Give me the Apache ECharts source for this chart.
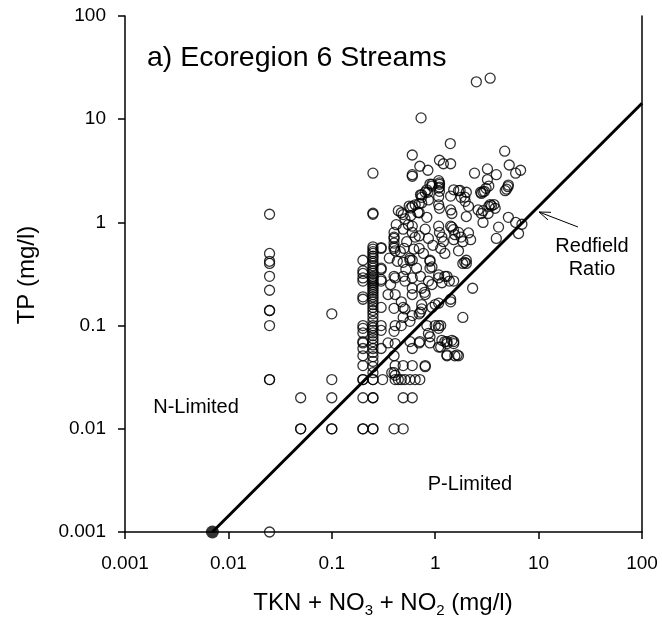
<!DOCTYPE html>
<html>
<head>
<meta charset="utf-8">
<script src="https://cdn.jsdelivr.net/npm/echarts@6/dist/echarts.min.js"></script>
<style>
html,body{margin:0;padding:0;background:#fff;}
#chart{width:662px;height:625px;}
</style>
</head>
<body>
<div id="chart"></div>
<script>
// Tick labels for both log axes
const tickLabels = ['0.001', '0.01', '0.1', '1', '10', '100'];

// Observations [TKN+NO3+NO2, TP] (mg/l), grouped by TKN range
const groupLow = [
  [0.025,1.2],[0.025,0.5],[0.025,0.42],[0.025,0.4],[0.025,0.3],[0.025,0.22],[0.025,0.14],[0.025,0.14],
  [0.025,0.1],[0.025,0.03],[0.025,0.03],[0.025,0.001],
  [0.05,0.02],[0.05,0.01],[0.05,0.01],
  [0.1,0.13],[0.1,0.03],[0.1,0.02],[0.1,0.01],[0.1,0.01]
];
const group020 = [
  [0.2,0.43],[0.2,0.34],[0.2,0.32],[0.2,0.29],[0.2,0.27],[0.2,0.19],[0.2,0.18],[0.2,0.1],[0.2,0.094],
  [0.2,0.085],[0.2,0.07],[0.2,0.068],[0.2,0.06],[0.2,0.051],[0.2,0.041],[0.2,0.03],[0.2,0.03],
  [0.2,0.02],[0.2,0.01],[0.2,0.01]
];
const group025 = [
  [0.25,3.0],[0.25,1.23],[0.25,1.2],
  [0.25,0.58],[0.25,0.55],[0.25,0.52],[0.25,0.5],[0.25,0.47],[0.25,0.45],[0.25,0.42],[0.25,0.4],
  [0.25,0.38],[0.25,0.36],[0.25,0.34],[0.25,0.32],[0.25,0.3],[0.25,0.29],[0.25,0.28],[0.25,0.27],
  [0.25,0.26],[0.25,0.25],[0.25,0.24],[0.25,0.23],[0.25,0.22],[0.25,0.21],[0.25,0.2],[0.25,0.19],
  [0.25,0.18],[0.25,0.17],[0.25,0.16],[0.25,0.15],[0.25,0.14],[0.25,0.13],[0.25,0.12],[0.25,0.11],
  [0.25,0.1],[0.25,0.095],[0.25,0.09],[0.25,0.085],[0.25,0.08],[0.25,0.075],[0.25,0.07],[0.25,0.065],
  [0.25,0.06],[0.25,0.055],[0.25,0.05],[0.25,0.045],[0.25,0.04],[0.25,0.035],[0.25,0.03],[0.25,0.03],
  [0.25,0.02],[0.25,0.02],[0.25,0.01],[0.25,0.01]
];
const group030 = [
  [0.3,0.57],[0.3,0.56],[0.3,0.36],[0.3,0.35],[0.3,0.28],[0.3,0.27],[0.3,0.15],[0.3,0.1],[0.3,0.09],
  [0.3,0.06],[0.31,0.03],[0.35,0.2],[0.35,0.068],
  [0.4,0.8],[0.4,0.72],[0.4,0.7],[0.4,0.63],[0.4,0.58],[0.4,0.56],[0.41,0.53],[0.4,0.3],[0.41,0.29],
  [0.41,0.2],[0.4,0.147],[0.41,0.1],[0.4,0.088],[0.41,0.067],[0.4,0.051],[0.41,0.041],[0.4,0.035],
  [0.41,0.033],[0.41,0.03],[0.38,0.035],[0.4,0.01],
  [0.36,0.45],[0.42,0.95],[0.44,1.3],[0.37,0.25],[0.43,0.42]
];
const group050 = [
  [0.49,1.19],[0.51,1.08],[0.47,1.24],[0.46,0.52],[0.49,0.86],[0.5,0.56],[0.49,0.41],[0.49,0.3],
  [0.51,0.27],[0.47,0.17],[0.49,0.15],[0.51,0.145],[0.49,0.12],[0.47,0.1],[0.49,0.041],[0.44,0.03],
  [0.47,0.03],[0.51,0.03],[0.49,0.02],[0.49,0.01],
  [0.6,4.5],[0.6,2.8],[0.6,2.9],[0.6,1.43],[0.58,1.38],[0.64,1.48],[0.56,1.44],[0.58,1.16],[0.6,0.92],
  [0.6,0.8],[0.64,0.72],[0.57,0.45],[0.6,0.43],[0.57,0.43],[0.6,0.29],[0.6,0.23],[0.6,0.2],[0.6,0.125],
  [0.57,0.11],[0.57,0.07],[0.6,0.06],[0.6,0.041],[0.57,0.03],[0.64,0.03],[0.6,0.02],
  [0.53,0.65],[0.55,0.95],[0.62,0.55],[0.52,0.35],[0.66,0.36]
];
const group075 = [
  [0.73,10.3],[0.71,3.5],[0.7,1.52],[0.74,1.54],[0.68,1.25],[0.7,1.24],[0.72,1.85],[0.74,1.75],
  [0.83,1.12],[0.7,0.74],[0.7,0.56],[0.72,0.3],[0.74,0.23],[0.8,0.2],[0.79,0.21],[0.74,0.16],
  [0.72,0.135],[0.7,0.13],[0.74,0.145],[0.83,0.1],[0.7,0.068],[0.71,0.07],[0.71,0.03],[0.8,0.041],
  [0.8,0.04],[0.8,0.86],[0.86,0.7],[0.83,2.07],[0.74,1.85],[0.8,1.96],
  [0.85,3.2],[0.93,2.25],[0.89,2.35],[0.85,1.96],[0.86,1.65],[0.93,2.34],[0.89,0.42],[0.93,0.37],
  [0.89,0.43],[0.89,0.36],[0.86,0.27],[0.93,0.25],[0.89,0.068],[0.86,0.084],[0.89,0.078],[0.93,0.15],
  [1.0,0.16],[1.0,0.1],[0.77,0.5],[0.95,0.6]
];
const group120 = [
  [1.1,4.0],[1.2,3.7],[1.08,2.54],[1.1,2.34],[1.1,2.42],[1.1,2.2],[1.1,2.0],[1.08,2.15],[1.08,1.77],
  [1.08,1.48],[1.1,1.37],[1.08,0.92],[1.1,0.8],[1.16,0.72],[1.2,0.65],[1.13,0.56],[1.24,0.5],
  [1.08,0.31],[1.16,0.26],[1.08,0.29],[1.3,0.3],[1.24,0.3],[1.37,0.27],[1.08,0.165],[1.08,0.1],
  [1.13,0.1],[1.08,0.094],[1.16,0.072],[1.3,0.07],[1.24,0.07],[1.13,0.062],[1.08,0.062],[1.3,0.067],
  [1.3,0.052],[1.3,0.051]
];
const group160 = [
  [1.4,5.8],[1.41,3.7],[1.51,2.07],[1.74,2.04],[1.68,2.03],[1.41,1.8],[1.78,1.75],[1.41,1.32],
  [1.45,1.22],[1.41,0.92],[1.45,0.9],[1.5,0.85],[1.55,0.76],[1.68,0.8],[1.51,0.68],[1.78,0.72],
  [1.85,0.65],[1.68,0.53],[1.51,0.27],[1.41,0.17],[1.41,0.18],[1.45,0.072],[1.51,0.07],[1.55,0.051],
  [1.68,0.051],[1.63,0.052],[1.85,0.12],[1.85,0.4],[1.93,0.41],[1.51,0.067]
];
const groupHigh = [
  [2.0,1.96],[1.93,1.76],[1.95,1.6],[2.1,1.43],[2.0,1.14],[2.2,0.68],[2.1,0.79],[2.0,0.43],[2.0,0.4],
  [2.3,0.23],[2.5,23],[2.4,3.0],
  [3.4,25],[3.2,3.3],[3.9,2.9],[3.2,2.6],[3.3,2.25],[3.1,2.14],[2.9,1.98],[2.75,1.96],[3.0,2.0],
  [2.8,1.91],[2.6,1.32],[2.8,1.22],[2.9,1.3],[3.3,1.43],[3.4,1.49],[3.7,1.49],[3.8,1.37],[3.5,1.45],
  [2.9,1.0],[4.1,0.9],[3.9,0.7],[3.25,1.22],
  [4.7,4.9],[5.2,3.6],[6.0,3.0],[6.7,3.2],[5.06,2.22],[4.9,2.1],[4.75,2.03],[5.1,2.3],[5.1,1.12],
  [6.0,1.0],[6.9,0.96],[6.4,0.78]
];

// Redfield ratio line (TN:TP = 7:1) and its start point
const redfieldX = [0.007, 100];
const redfieldY = [0.001, 100 / 7];

const observations = [].concat(groupLow, group020, group025, group030, group050, group075, group120, group160, groupHigh);

const FONT = '"Liberation Sans", Arial, Helvetica, sans-serif';
const chart = echarts.init(document.getElementById('chart'), null, {renderer: 'canvas'});

const fmt = v => tickLabels[Math.round(Math.log10(v)) + 3];

const axisCommon = {
  type: 'log', logBase: 10, min: 0.001, max: 100,
  splitLine: {show: false}, minorTick: {show: false}, minorSplitLine: {show: false}
};

chart.setOption({
  animation: false,
  backgroundColor: '#fff',
  title: {
    text: 'a) Ecoregion 6 Streams',
    left: 147, top: 43, padding: 0,
    textStyle: {fontFamily: FONT, fontSize: 28.5, fontWeight: 'normal', color: '#000', lineHeight: 30}
  },
  grid: {left: 125, right: 20, top: 16, bottom: 93, containLabel: false},
  xAxis: Object.assign({}, axisCommon, {
    axisLine: {show: true, lineStyle: {color: '#000', width: 1.5}},
    axisTick: {show: true, length: 7, inside: false, lineStyle: {color: '#000', width: 1.5}},
    axisLabel: {fontFamily: FONT, fontSize: 19, color: '#000', margin: 22, formatter: fmt}
  }),
  yAxis: [
    Object.assign({}, axisCommon, {
      position: 'left',
      axisLine: {show: true, lineStyle: {color: '#000', width: 1.5}},
      axisTick: {show: true, length: 7, inside: false, lineStyle: {color: '#000', width: 1.5}},
      axisLabel: {fontFamily: FONT, fontSize: 19, color: '#000', margin: 19, formatter: fmt}
    }),
    Object.assign({}, axisCommon, {
      position: 'right',
      axisLine: {show: true, lineStyle: {color: '#000', width: 1.5}},
      axisTick: {show: false}, axisLabel: {show: false}
    })
  ],
  series: [
    {
      type: 'scatter',
      data: observations,
      symbol: 'circle', symbolSize: 10,
      clip: false,
      itemStyle: {color: 'rgba(0,0,0,0)', borderColor: '#000', borderWidth: 1.3},
      z: 2
    },
    {
      type: 'line',
      data: redfieldX.map((x, i) => [x, redfieldY[i]]),
      showSymbol: false, symbol: 'none',
      clip: false,
      lineStyle: {color: '#000', width: 3},
      z: 3
    },
    {
      type: 'scatter',
      data: [[redfieldX[0], redfieldY[0]]],
      symbol: 'circle', symbolSize: 13,
      clip: false,
      itemStyle: {color: '#000', borderWidth: 0},
      z: 4
    }
  ],
  graphic: [
    {type: 'text', x: 196, y: 407, style: {text: 'N-Limited', font: '20px ' + FONT, fill: '#000', align: 'center', verticalAlign: 'middle'}},
    {type: 'text', x: 470, y: 484, style: {text: 'P-Limited', font: '20px ' + FONT, fill: '#000', align: 'center', verticalAlign: 'middle'}},
    {type: 'text', x: 592, y: 246, style: {text: 'Redfield', font: '20px ' + FONT, fill: '#000', align: 'center', verticalAlign: 'middle'}},
    {type: 'text', x: 592, y: 269, style: {text: 'Ratio', font: '20px ' + FONT, fill: '#000', align: 'center', verticalAlign: 'middle'}},
    {type: 'line', shape: {x1: 578, y1: 227, x2: 539, y2: 212}, style: {stroke: '#000', lineWidth: 1}},
    {type: 'line', shape: {x1: 539, y1: 212, x2: 548, y2: 219.9}, style: {stroke: '#000', lineWidth: 1}},
    {type: 'line', shape: {x1: 539, y1: 212, x2: 551, y2: 212.3}, style: {stroke: '#000', lineWidth: 1}},
    {type: 'text', x: 27, y: 275, rotation: Math.PI / 2,
      style: {text: 'TP (mg/l)', font: '24px ' + FONT, fill: '#000', align: 'center', verticalAlign: 'middle'}},
    {type: 'text', x: 383, y: 603,
      style: {
        text: '{a|TKN + NO}{s|3}{a| + NO}{s|2}{a| (mg/l)}',
        align: 'center', verticalAlign: 'middle',
        rich: {
          a: {fontFamily: FONT, fontSize: 24, color: '#000', lineHeight: 30, verticalAlign: 'middle'},
          s: {fontFamily: FONT, fontSize: 15, color: '#000', lineHeight: 12, verticalAlign: 'bottom'}
        }
      }}
  ]
});
</script>
</body>
</html>
